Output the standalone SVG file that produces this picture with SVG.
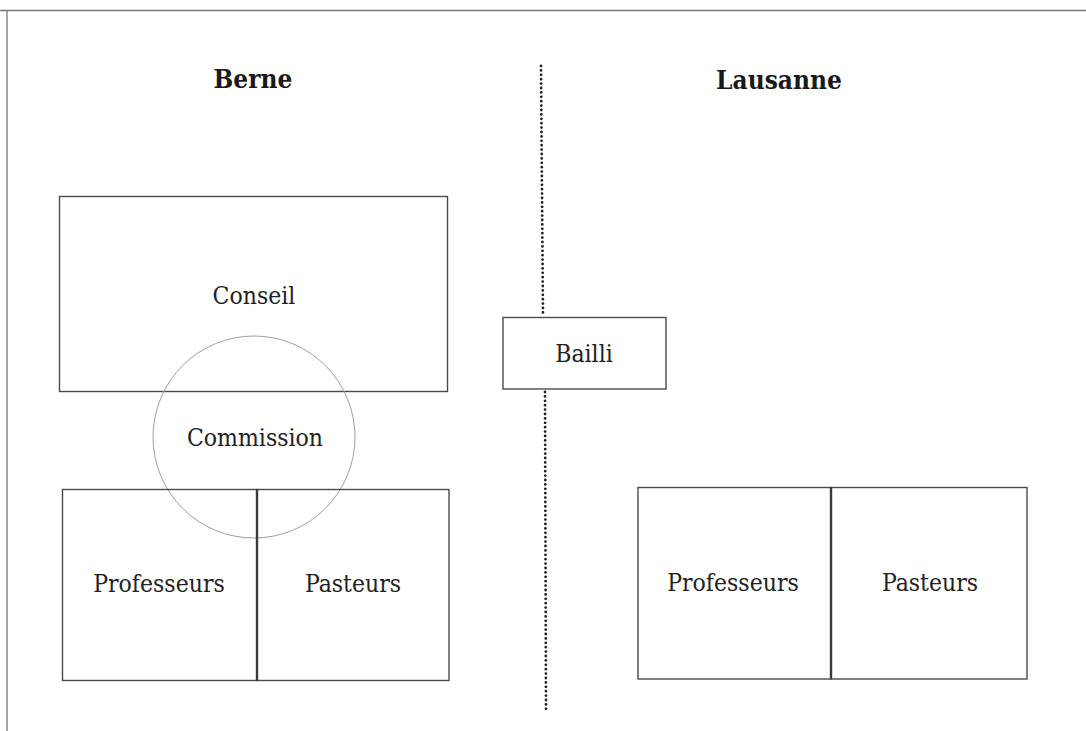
<svg xmlns="http://www.w3.org/2000/svg" width="1086" height="731" viewBox="0 0 1086 731">
<style>
.box{fill:none;stroke:#4a4a4a;stroke-width:1.4}
.div{stroke:#3a3a3a;stroke-width:2.4}
.lbl{font-family:"DejaVu Serif","Liberation Serif",serif;font-stretch:condensed;font-size:24.5px;fill:#222;text-anchor:middle}
.ttl{font-family:"DejaVu Serif","Liberation Serif",serif;font-stretch:condensed;font-weight:bold;font-size:26px;fill:#1a1a1a;text-anchor:middle}
.dots{stroke:#222;stroke-width:2.8;stroke-linecap:round;stroke-dasharray:0 4.4;fill:none}
</style>
<rect width="1086" height="731" fill="#fff"/>
<g id="frame" stroke="#777" stroke-width="1.3" fill="none">
<line x1="0" y1="10.5" x2="1086" y2="10.5"/>
<line x1="7" y1="10" x2="7" y2="731"/>
</g>
<g id="title-berne"><text class="ttl" x="253" y="88">Berne</text></g>
<g id="title-lausanne"><text class="ttl" x="779" y="89">Lausanne</text></g>
<g id="connectors">
<line class="dots" x1="541" y1="66" x2="543" y2="314"/>
<line class="dots" x1="545" y1="392" x2="546" y2="711"/>
</g>
<g id="conseil">
<rect class="box" x="59.5" y="196.5" width="388" height="195"/>
<text class="lbl" x="254" y="304">Conseil</text>
</g>
<g id="commission">
<circle cx="254" cy="437" r="101" fill="none" stroke="#a0a0a0" stroke-width="1"/>
<text class="lbl" x="255" y="446">Commission</text>
</g>
<g id="bailli">
<rect class="box" x="503" y="317.5" width="163" height="71.5"/>
<text class="lbl" x="584" y="362">Bailli</text>
</g>
<g id="berne-professeurs">
<rect class="box" x="62.5" y="489.5" width="194.5" height="191"/>
<text class="lbl" x="159" y="592">Professeurs</text>
</g>
<g id="berne-pasteurs">
<rect class="box" x="257" y="489.5" width="192" height="191"/>
<line class="div" x1="257" y1="489" x2="257" y2="681"/>
<text class="lbl" x="353" y="592">Pasteurs</text>
</g>
<g id="lausanne-professeurs">
<rect class="box" x="638" y="487.5" width="193" height="191.5"/>
<text class="lbl" x="733" y="591">Professeurs</text>
</g>
<g id="lausanne-pasteurs">
<rect class="box" x="831" y="487.5" width="196" height="191.5"/>
<line class="div" x1="831" y1="487" x2="831" y2="679"/>
<text class="lbl" x="930" y="591">Pasteurs</text>
</g>
</svg>
